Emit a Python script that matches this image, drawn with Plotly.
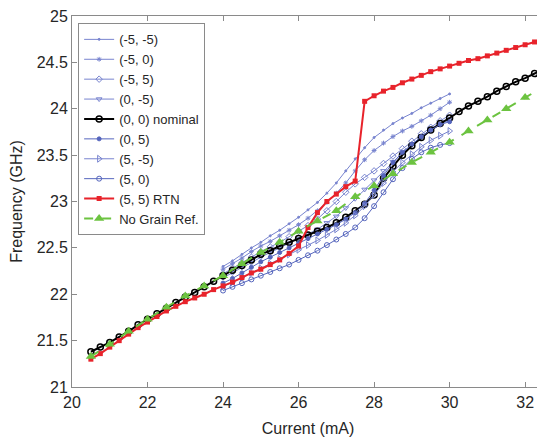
import plotly.graph_objects as go

# ---------------- data ----------------
x_main = [20.5, 20.75, 21.0, 21.25, 21.5, 21.75, 22.0, 22.25, 22.5, 22.75, 23.0, 23.25,
          23.5, 23.75, 24.0, 24.25, 24.5, 24.75, 25.0, 25.25, 25.5, 25.75, 26.0, 26.25,
          26.5, 26.75, 27.0, 27.25, 27.5, 27.75, 28.0, 28.25, 28.5, 28.75, 29.0, 29.25,
          29.5, 29.75, 30.0, 30.25, 30.5, 30.75, 31.0, 31.25, 31.5, 31.75, 32.0, 32.25, 32.5]

nominal = [21.38, 21.43, 21.48, 21.54, 21.60, 21.67, 21.73, 21.79, 21.85, 21.91, 21.97, 22.02,
           22.08, 22.14, 22.20, 22.26, 22.31, 22.37, 22.43, 22.47, 22.52, 22.56, 22.60, 22.64,
           22.68, 22.72, 22.77, 22.83, 22.90, 22.97, 23.07, 23.25, 23.38, 23.50, 23.60, 23.69,
           23.77, 23.84, 23.90, 23.97, 24.03, 24.08, 24.13, 24.19, 24.24, 24.29, 24.33, 24.38, 24.42]

rtn = [21.30, 21.36, 21.43, 21.50, 21.57, 21.64, 21.70, 21.76, 21.82, 21.87, 21.92, 21.96,
       22.00, 22.05, 22.09, 22.13, 22.18, 22.23, 22.27, 22.32, 22.37, 22.44, 22.52, 22.72,
       22.88, 23.00, 23.08, 23.16, 23.22, 24.08, 24.14, 24.19, 24.23, 24.28, 24.32, 24.36,
       24.40, 24.43, 24.46, 24.49, 24.52, 24.54, 24.57, 24.60, 24.63, 24.66, 24.69, 24.72, 24.77]

x_ref = [20.5, 21.0, 21.5, 22.0, 22.5, 23.0, 23.5, 24.0, 24.5, 25.0, 25.5, 26.0, 26.5,
         27.0, 27.5, 28.0, 28.5, 29.0, 29.5, 30.0, 30.5, 31.0, 31.5, 32.0, 32.5]
no_grain = [21.33, 21.46, 21.60, 21.73, 21.86, 21.98, 22.09, 22.20, 22.33, 22.45, 22.56, 22.68, 22.79,
            22.90, 23.05, 23.17, 23.30, 23.42, 23.53, 23.64, 23.76, 23.88, 24.00, 24.12, 24.24]

x_var = [24.0, 24.25, 24.5, 24.75, 25.0, 25.25, 25.5, 25.75, 26.0, 26.25, 26.5, 26.75, 27.0,
         27.25, 27.5, 27.75, 28.0, 28.25, 28.5, 28.75, 29.0, 29.25, 29.5, 29.75, 30.0]

m5_m5 = [22.30, 22.36, 22.43, 22.50, 22.56, 22.63, 22.69, 22.76, 22.83, 22.91, 22.99, 23.09, 23.20,
         23.33, 23.46, 23.58, 23.69, 23.77, 23.84, 23.90, 23.95, 24.01, 24.06, 24.11, 24.16]
m5_0 = [22.27, 22.33, 22.39, 22.46, 22.52, 22.57, 22.63, 22.69, 22.75, 22.82, 22.90, 22.99, 23.09,
        23.20, 23.33, 23.45, 23.55, 23.63, 23.70, 23.76, 23.81, 23.87, 23.93, 24.00, 24.07]
m5_p5 = [22.22, 22.28, 22.34, 22.40, 22.46, 22.51, 22.56, 22.62, 22.68, 22.74, 22.81, 22.90, 23.00,
         23.10, 23.19, 23.26, 23.33, 23.41, 23.49, 23.57, 23.65, 23.73, 23.80, 23.87, 23.93]
z_m5 = [22.18, 22.23, 22.29, 22.34, 22.40, 22.45, 22.50, 22.55, 22.60, 22.65, 22.70, 22.77, 22.84,
        22.93, 23.03, 23.13, 23.23, 23.33, 23.43, 23.52, 23.61, 23.69, 23.77, 23.83, 23.88]
z_p5 = [22.12, 22.17, 22.23, 22.29, 22.35, 22.40, 22.45, 22.50, 22.55, 22.60, 22.65, 22.70, 22.75,
        22.81, 22.88, 22.98, 23.12, 23.28, 23.42, 23.53, 23.62, 23.70, 23.77, 23.83, 23.86]
p5_m5 = [22.08, 22.13, 22.18, 22.23, 22.28, 22.33, 22.38, 22.43, 22.48, 22.53, 22.58, 22.64, 22.70,
         22.77, 22.85, 22.95, 23.07, 23.20, 23.32, 23.42, 23.51, 23.59, 23.66, 23.71, 23.76]
p5_0 = [22.04, 22.08, 22.12, 22.16, 22.20, 22.24, 22.28, 22.32, 22.37, 22.42, 22.47, 22.53, 22.59,
        22.65, 22.72, 22.82, 22.95, 23.10, 23.24, 23.36, 23.46, 23.53, 23.58, 23.61, 23.63]

x_ticks = [20, 22, 24, 26, 28, 30, 32]
y_ticks = [21, 21.5, 22, 22.5, 23, 23.5, 24, 24.5, 25]
y_tick_labels = ["21", "21.5", "22", "22.5", "23", "23.5", "24", "24.5", "25"]

# ---------------- figure ----------------
blue = "#7884cf"
blue_dark = "#5565bd"

fig = go.Figure()

var_series = [
    ("(-5, -5)", m5_m5, "circle", 2, blue),
    ("(-5, 0)", m5_0, "asterisk-open", 4, blue),
    ("(-5, 5)", m5_p5, "diamond-open", 5, blue),
    ("(0, -5)", z_m5, "triangle-down-open", 5, blue),
]
for name, ys, sym, sz, col in var_series:
    fig.add_trace(go.Scatter(x=x_var, y=ys, name=name, mode="lines+markers",
                             line=dict(color=col, width=1),
                             marker=dict(symbol=sym, size=sz, color=col,
                                         line=dict(color=col, width=1))))

fig.add_trace(go.Scatter(x=x_main, y=nominal, name="(0, 0) nominal", mode="lines+markers",
                         line=dict(color="black", width=2),
                         marker=dict(symbol="circle-open", size=6, color="black",
                                     line=dict(color="black", width=1.5))))

var_series2 = [
    ("(0, 5)", z_p5, "circle", 4, blue_dark),
    ("(5, -5)", p5_m5, "triangle-right-open", 6, blue),
    ("(5, 0)", p5_0, "circle-open", 5, blue_dark),
]
for name, ys, sym, sz, col in var_series2:
    fig.add_trace(go.Scatter(x=x_var, y=ys, name=name, mode="lines+markers",
                             line=dict(color=col, width=1),
                             marker=dict(symbol=sym, size=sz, color=col,
                                         line=dict(color=col, width=1))))

fig.add_trace(go.Scatter(x=x_main, y=rtn, name="(5, 5) RTN", mode="lines+markers",
                         line=dict(color="#e8232b", width=2),
                         marker=dict(symbol="square", size=5, color="#e8232b")))

fig.add_trace(go.Scatter(x=x_ref, y=no_grain, name="No Grain Ref.", mode="lines+markers",
                         line=dict(color="#6cc340", width=2, dash="dash"),
                         marker=dict(symbol="triangle-up", size=9, color="#6cc340")))

axis_common = dict(showline=True, linecolor="#8a8a8a", linewidth=1, mirror="ticks",
                   ticks="inside", ticklen=5, tickcolor="#8a8a8a", showgrid=False,
                   zeroline=False, automargin=False, ticklabeloverflow="allow",
                   tickfont=dict(family="Arial, Liberation Sans", size=16, color="#262626"),
                   title_font=dict(family="Arial, Liberation Sans", size=16, color="#262626"))

# the page body adds an 8px offset, so the figure is sized to fit the window
fig.update_layout(
    width=537, height=429,
    margin=dict(l=64, r=1, t=8, b=50),
    paper_bgcolor="white", plot_bgcolor="white",
    font=dict(family="Arial, Liberation Sans", color="#262626"),
    xaxis=dict(range=[20, 32.5], tickvals=x_ticks, title=dict(text="Current (mA)"),
               ticklabelstandoff=1, **axis_common),
    yaxis=dict(range=[21, 25], tickvals=y_ticks, ticktext=y_tick_labels,
               title=dict(text="Frequency (GHz)"), **axis_common),
    legend=dict(x=0.013, y=0.98, xanchor="left", yanchor="top",
                bgcolor="white", bordercolor="#8a8a8a", borderwidth=1,
                font=dict(family="Arial, Liberation Sans", size=13, color="#262626"),
                itemwidth=30, tracegroupgap=0),
    showlegend=True,
)

fig.write_html("out.html")
